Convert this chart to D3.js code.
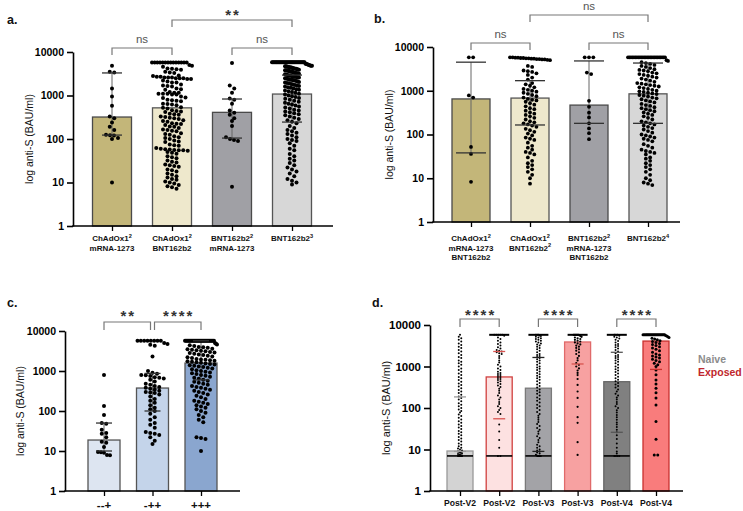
<!DOCTYPE html>
<html>
<head>
<meta charset="utf-8">
<script src="https://cdn.jsdelivr.net/npm/d3@7"></script>
<style>
  html, body { margin: 0; padding: 0; background: #fff; }
  svg { display: block; }
</style>
</head>
<body>
<svg id="chart" width="743" height="511"></svg>
<script>
// ---------------- DATA ----------------
const yTicks = [1, 10, 100, 1000, 10000];
const yTitle = "log anti-S (BAU/ml)";

// Panel a
const aLabels = [["ChAdOx1^2", "mRNA-1273"], ["ChAdOx1^2", "BNT162b2"], ["BNT162b2^2", "mRNA-1273"], ["BNT162b2^3"]];
const aBars = [320, 520, 410, 1080];
const aLo = [123, null, 105, 245];
const aHi = [3300, null, 830, 2950];
const aBrackets = [[0, 1, "ns"], [1, 3, "**"], [2, 3, "ns"]];
const aDots1 = [4800, 3500, 3400, 1450, 950, 580, 330, 300, 240, 190, 160, 125, 122, 120, 105, 100, 10];
const aDots2 = [5700, 5700, 5700, 5700, 5700, 5700, 5700, 5700, 5700, 5700, 5700, 5700, 5700, 5700,
  5000, 4800, 4600, 4200, 4100, 4000, 3900, 3500, 3400, 3300,
  2900, 2800, 2700, 2700, 2600, 2600, 2600, 2500, 2500, 2500, 2400, 2400,
  2200, 2100, 2000, 2000, 1800, 1700, 1650, 1600, 1450, 1400, 1350,
  1200, 1150, 1150, 1100, 1100, 1100, 1050, 1050, 950, 900, 880,
  800, 780, 760, 740, 650, 640, 620, 600, 540, 520, 500,
  460, 440, 430, 420, 380, 370, 360, 330, 320, 310, 300, 290,
  270, 260, 250, 230, 225, 220, 210, 195, 190, 180,
  165, 160, 155, 150, 135, 130, 125, 115, 110, 105, 100,
  92, 88, 85, 75, 72, 70, 62, 60, 58, 57, 56, 55, 55, 54,
  50, 48, 46, 40, 38, 36, 32, 30, 29, 26, 25, 24, 23,
  20, 19, 18, 16, 15, 14, 13, 12, 11.5, 10.5, 10, 9.5, 8.8, 8.2, 7.8, 7.2];
const aDots3 = [5600, 1700, 1450, 1150, 850, 800, 650, 450, 400, 360, 300, 260, 200, 110, 100, 95, 90, 8];
const aDots4 = [5800, 5800, 5800, 5800, 5800, 5800, 5800, 5800, 5800, 5800, 5800, 5800, 5800, 5800, 5800, 5800, 5800, 5800,
  5800, 5800, 5800, 5800, 5800, 5800, 5800, 5800, 5800, 5800, 5800, 5800, 5800, 5800, 5800, 5800, 5800, 5800,
  5400, 5300, 5200, 5100, 5000, 4900, 4850, 4800, 4700, 4650, 4600, 4500, 4450, 4400, 4300, 4250, 4200, 4100, 4000,
  3950, 3900, 3800, 3750, 3700, 3600, 3550, 3500, 3400, 3350, 3300, 3200, 3150, 3100, 3000, 2950, 2900, 2800, 2750,
  2700, 2650, 2600, 2500, 2450, 2400, 2350, 2300, 2250, 2200, 2150, 2100, 2050, 2000,
  4700, 4400, 4100, 3800, 3500, 3200, 2900, 2600, 2300, 3700, 3300, 2700,
  1950, 1900, 1850, 1800, 1750, 1700, 1650, 1600, 1550, 1500, 1450, 1400, 1350, 1300, 1250, 1200, 1150, 1100, 1050, 1000,
  960, 920, 880, 840, 800, 760, 720, 680, 650, 620, 590, 560, 530, 500, 470, 450, 430, 410, 390, 370, 350, 330, 310, 290, 270, 250,
  230, 200, 180, 160, 150, 140, 130, 120, 110, 100, 95, 90, 80, 70, 60, 55, 45, 40, 35, 32, 28, 25, 22, 20, 18, 16, 14, 12, 11, 10, 9];

// Panel b
const bLabels = [["ChAdOx1^2", "mRNA-1273", "BNT162b2"], ["ChAdOx1^2", "BNT162b2^2"], ["BNT162b2^2", "mRNA-1273", "BNT162b2"], ["BNT162b2^4"]];
const bBars = [650, 680, 470, 850];
const bLo = [38, 165, 180, 180];
const bHi = [4500, 1700, 4800, 4300];
const bBrackets = [[0, 1, "ns"], [1, 3, "ns"], [2, 3, "ns"]];
const bDots1 = [5800, 5800, 780, 700, 52, 36, 8.3];
const bDots2 = [5800, 5800, 5700, 5700, 5600, 5600, 5500, 5500, 5400, 5400, 5300, 5300, 5200, 5200, 5100, 5000,
  3700, 3500, 2900, 2800, 2700, 2500, 2300, 2000, 1800, 1500, 1400, 1300, 1200, 1100, 1050, 1000, 950, 900, 850, 800,
  750, 700, 650, 620, 600, 560, 520, 480, 440, 400, 380, 350, 320, 300, 280, 260, 240, 220, 200, 190, 180, 170, 160,
  150, 135, 125, 115, 105, 95, 85, 80, 75, 65, 55, 50, 45, 40, 38, 35, 30, 25, 22, 20, 18, 16, 14, 12, 10, 7.5];
const bDots3 = [5800, 5800, 5800, 2600, 2400, 590, 430, 315, 245, 180, 138, 107, 78];
const bDots4 = [5800, 5800, 5800, 5800, 5800, 5800, 5800, 5800, 5800, 5800, 5800, 5800, 5800, 5800, 5800, 5800, 5800,
  5800, 5800, 5800, 5800, 5800, 5800, 5800, 5800, 5800,
  5000, 4800, 4500, 4300, 4100, 3900, 3700, 3500, 3300, 3100, 3000, 2900, 2800, 2600, 2500, 2400, 2300, 2200, 2100,
  2000, 1900, 1800, 1700, 1600, 1500, 1450, 1400, 1350, 1300, 1250, 1200, 1150, 1100, 1050, 1000, 970, 940, 900, 870,
  840, 800, 770, 740, 700, 670, 640, 600, 570, 540, 500, 470, 450, 420, 400, 380, 360, 340, 320, 300, 280, 260, 240,
  220, 200, 190, 180, 170, 160, 150, 140, 130, 120, 110, 100, 95, 90, 85, 80, 75, 70, 60, 55, 50, 45, 42, 40, 38, 35,
  30, 28, 25, 22, 20, 18, 16, 14, 12, 10, 9, 8, 7.5, 7];

// Panel c
const cLabels = [["--+"], ["-++"], ["+++"]];
const cBars = [18.8, 375, 1580];
const cLo = [10, 100, 600];
const cHi = [50, 870, 5700];
const cBrackets = [[0, 1, "**"], [1, 2, "****"]];
const cDots1 = [790, 133, 80, 50, 48, 34, 28, 27, 22, 17, 16, 12.6, 9.5, 9.3, 9, 8, 7.8];
const cDots2 = [5700, 5700, 5700, 5700, 5700, 5700, 5700, 5700, 5000, 4700, 4500, 4300, 2300, 1000, 900, 850, 800, 780,
  750, 700, 680, 650, 600, 550, 480, 450, 420, 400, 380, 360, 340, 320, 300, 290, 280, 260, 230, 200, 180, 160, 140,
  120, 110, 100, 85, 70, 60, 50, 45, 38, 30, 28, 27, 25, 22, 18, 15];
const cDots3 = [5700, 5700, 5700, 5700, 5700, 5700, 5700, 5700, 5700, 5700, 5700, 5700, 5700, 5700, 5700, 5700, 5700,
  5700, 5700, 5700, 5700, 5700, 5700, 5700, 5700, 5700, 5700, 5700, 5700, 5700,
  5000, 4800, 4600, 4400, 4200, 4000, 3900, 3800, 3600, 3500, 3400, 3300, 3200, 3100, 3000, 2900, 2800, 2700, 2600,
  2500, 2400, 2300, 2200, 2100, 2000, 1950, 1900, 1850, 1800, 1750, 1700, 1650, 1600, 1550, 1500, 1450, 1400, 1350,
  1300, 1250, 1200, 1150, 1100, 1050, 1000, 960, 920, 880, 840, 800, 760, 720, 680, 640, 600, 570, 540, 510, 480, 450,
  420, 400, 380, 360, 340, 320, 300, 280, 260, 240, 220, 200, 180, 170, 160, 150, 140, 130, 120, 110, 100, 90, 80,
  70, 60, 52, 22, 21, 20, 10];

// Panel d
const dLabels = [["Post-V2"], ["Post-V2"], ["Post-V3"], ["Post-V3"], ["Post-V4"], ["Post-V4"]];
const dGroups = ["Naive", "Exposed", "Naive", "Exposed", "Naive", "Exposed"];
const dLegend = ["Naive", "Exposed"];
const dBars = [9.2, 560, 300, 3900, 430, 4100];
const dLo = [9, 55, 9, null, 26, null];
const dHi = [185, 2300, 1650, 1150, 2200, 850];
const dMin = [7, 7, 7, null, 7, null];
const dMax = [null, 5800, 5800, 5800, 5800, 5800];
const dBrackets = [[0, 1, "****"], [2, 3, "****"], [4, 5, "****"]];
const dDots1 = [5800, 5200, 4800, 4400, 4000, 3600, 3300, 3000, 2800, 2500, 2300, 2100, 1900, 1700, 1600, 1400, 1300,
  1200, 1100, 1000, 900, 820, 750, 680, 620, 560, 520, 470, 430, 390, 360, 330, 300, 270, 250, 230, 210, 190, 175,
  160, 145, 130, 120, 110, 100, 92, 85, 78, 70, 64, 58, 53, 48, 44, 40, 37, 34, 31, 28, 26, 24, 22, 20, 18.5, 17,
  15.5, 14, 13, 12, 11, 10.5, 10, 9.5, 9, 8.7, 8.4, 8.1, 7.8, 7.6, 7.4, 7.2, 7, 7, 7, 7, 7, 7, 7, 7];
const dDots2 = [5800, 5800, 5800, 5800, 5800, 5500, 5000, 4600, 4200, 3800, 3500, 3200, 2900, 2700, 2500, 2400, 2300,
  2200, 2100, 2000, 1800, 1600, 1400, 1250, 1100, 1000, 900, 820, 750, 700, 660, 620, 590, 560, 530, 500, 470, 440,
  410, 380, 350, 320, 290, 260, 230, 200, 180, 160, 140, 125, 110, 100, 90, 80, 72, 40, 27, 17, 11, 7, 7];
const dDots3 = [5800, 5800, 5800, 5600, 5400, 5200, 5000, 4800, 4600, 4400, 4200, 4000, 3800, 3600, 3400, 3200, 3000,
  2800, 2600, 2400, 2200, 2000, 1900, 1800, 1700, 1600, 1500, 1400, 1300, 1200, 1100, 1000, 940, 880, 820, 760, 700,
  650, 600, 560, 520, 480, 440, 400, 370, 340, 310, 280, 260, 240, 220, 200, 180, 165, 150, 135, 120, 110, 100, 90,
  80, 72, 65, 58, 52, 46, 41, 37, 33, 30, 27, 24, 21, 19, 17, 15, 13, 12, 11, 10, 9.5, 9, 8.5, 8, 7.5, 7.2, 7, 7, 7, 7, 7];
const dDots4 = [5800, 5800, 5800, 5800, 5800, 5800, 5600, 5400, 5200, 5000, 4800, 4600, 4400, 4200, 4000, 3800, 3600,
  3400, 3200, 3000, 2800, 2600, 2400, 2200, 2000, 1800, 1600, 1400, 1200, 1100, 1000, 900, 800, 700, 620, 500, 360,
  250, 175, 107, 60, 44, 15, 7.4];
const dDots5 = [5800, 5800, 5800, 5500, 5200, 5000, 4700, 4400, 4100, 3800, 3500, 3300, 3100, 2900, 2700, 2500, 2300,
  2100, 1900, 1800, 1700, 1600, 1500, 1400, 1300, 1200, 1100, 1000, 930, 860, 800, 740, 680, 620, 570, 520, 480, 440,
  400, 370, 340, 310, 280, 250, 220, 200, 180, 160, 140, 125, 110, 100, 88, 78, 68, 60, 52, 45, 40, 35, 30, 26, 22,
  18, 14, 11, 9, 8, 7, 7, 7, 7];
const dDots6 = [5800, 5800, 5800, 5800, 5800, 5800, 5800, 5800, 5800, 5800, 5800, 5800, 5800, 5800, 5800, 5800, 5800,
  5800, 5800, 5800, 5600, 5400, 5200, 5000, 4800, 4600, 4400, 4200, 4000, 3800, 3600, 3400, 3200, 3000, 2800, 2600,
  2400, 2200, 2000, 1900, 1800, 1700, 1600, 1500, 1400, 1300, 1200, 1100, 1000, 820, 630, 470, 380, 300, 233, 174,
  118, 47, 17.6, 7.4, 7.4];

// ---------------- DRAW ----------------
const FONT = "'Liberation Sans', Arial, Helvetica, sans-serif";
const svg = d3.select("#chart");
svg.append("rect").attr("width", 743).attr("height", 511).attr("fill", "#fff");

function swarm(values, y, r, maxW, capW, capMin) {
  const pts = values.map(v => ({ v, y: y(v) })).sort((a, b) => a.y - b.y);
  const rows = [];
  let cur = null;
  pts.forEach(p => {
    if (!cur || p.y - cur.y0 > r * 1.9) { cur = { y0: p.y, v0: p.v, pts: [] }; rows.push(cur); }
    cur.pts.push(p);
  });
  rows.forEach(row => {
    const n = row.pts.length;
    const w = row.v0 >= capMin ? capW : maxW;
    const sp = n > 1 ? Math.min(2 * r + 0.5, w / (n - 1)) : 0;
    row.pts.forEach((p, i) => { p.dx = (i - (n - 1) / 2) * sp; });
  });
  return pts;
}

function multiLabel(g, lines, cx, ys, size) {
  lines.forEach((line, k) => {
    const parts = line.split("^");
    const t = g.append("text").attr("x", cx).attr("y", ys[k]).attr("text-anchor", "middle")
      .attr("font-family", FONT).attr("font-weight", "bold").attr("font-size", size).attr("fill", "#111");
    t.append("tspan").text(parts[0]);
    if (parts[1]) t.append("tspan").attr("font-size", size * 0.7).attr("dy", -size * 0.42).text(parts[1]);
  });
}

function drawPanel(c) {
  const g = svg.append("g");
  const n = c.bars.length;
  const y = d3.scaleLog().domain([1, 10000]).range([c.y0, c.y1]);
  const x = d3.scalePoint().domain(d3.range(n)).range([c.c0, c.c1]);

  g.selectAll("rect.bar").data(c.bars).enter().append("rect")
    .attr("x", (d, i) => x(i) - c.bw / 2).attr("y", d => y(d))
    .attr("width", c.bw).attr("height", d => y(1) - y(d))
    .attr("fill", (d, i) => c.fills[i]).attr("stroke", (d, i) => c.strokes[i]).attr("stroke-width", 1.3);

  if (c.lo && c.whisker) {
    c.bars.forEach((b, i) => {
      if (c.lo[i] == null || c.hi[i] == null) return;
      g.append("line").attr("x1", x(i)).attr("x2", x(i)).attr("y1", y(c.lo[i])).attr("y2", y(c.hi[i]))
        .attr("stroke", "#666").attr("stroke-width", 1);
    });
  }

  c.dots.forEach((vals, i) => {
    const r = c.rs ? c.rs[i] : c.r;
    const pts = swarm(vals, y, r, c.maxW[i], c.capW[i], c.capMin);
    g.selectAll(null).data(pts).enter().append("circle")
      .attr("cx", p => x(i) + p.dx).attr("cy", p => p.y).attr("r", r).attr("fill", "#000");
  });

  if (c.lo) {
    c.bars.forEach((b, i) => {
      [c.lo[i], c.hi[i]].forEach(v => {
        if (v == null) return;
        g.append("line").attr("x1", x(i) - c.errCap / 2).attr("x2", x(i) + c.errCap / 2)
          .attr("y1", y(v)).attr("y2", y(v))
          .attr("stroke", c.errColors ? c.errColors[i] : "#333").attr("stroke-width", 1.3);
      });
    });
  }
  if (c.minCaps) {
    c.bars.forEach((b, i) => {
      if (c.minCaps[i] != null) g.append("line").attr("x1", x(i) - c.bw / 2).attr("x2", x(i) + c.bw / 2)
        .attr("y1", y(c.minCaps[i])).attr("y2", y(c.minCaps[i])).attr("stroke", "#000").attr("stroke-width", 1.6);
      if (c.maxCaps[i] != null) g.append("line").attr("x1", x(i) - c.maxCapW / 2).attr("x2", x(i) + c.maxCapW / 2)
        .attr("y1", y(c.maxCaps[i])).attr("y2", y(c.maxCaps[i])).attr("stroke", "#000").attr("stroke-width", 2);
    });
  }

  const yAx = g.append("g").attr("transform", `translate(${c.ax},0)`)
    .call(d3.axisLeft(y).tickValues(yTicks).tickFormat(d3.format("d")).tickSize(6).tickSizeOuter(0).tickPadding(3));
  yAx.select(".domain").attr("stroke", "#000").attr("stroke-width", 1.6);
  yAx.selectAll(".tick line").attr("stroke", "#000").attr("stroke-width", 1.6);
  yAx.selectAll(".tick text").attr("font-family", FONT).attr("font-weight", "bold")
    .attr("font-size", c.tickFont).attr("fill", "#000");

  const xAx = g.append("g").attr("transform", `translate(0,${c.y0})`)
    .call(d3.axisBottom(x).tickSize(5).tickFormat(""));
  xAx.select(".domain").remove();
  xAx.selectAll(".tick line").attr("stroke", "#000").attr("stroke-width", 1.3);
  g.append("line").attr("x1", c.ax - 0.8).attr("x2", c.axEnd).attr("y1", c.y0).attr("y2", c.y0)
    .attr("stroke", "#000").attr("stroke-width", 1.6);

  c.labels.forEach((lines, i) => multiLabel(g, lines, x(i), c.labelY, c.labelFont));

  g.append("text").attr("transform", `translate(${c.titleX},${(c.y0 + c.y1) / 2}) rotate(-90)`)
    .attr("text-anchor", "middle").attr("font-family", FONT).attr("font-size", c.titleFont)
    .attr("fill", "#111").text(yTitle);

  g.append("text").attr("x", c.lx).attr("y", c.ly).attr("font-family", FONT).attr("font-weight", "bold")
    .attr("font-size", 12.5).attr("fill", "#111").text(c.letter);

  c.brackets.forEach((br, k) => {
    const [i, j, lab] = br;
    const by = c.bracketY[k];
    const shared = e => c.brackets.some((o, m) => m !== k && c.bracketY[m] === by && (o[0] === e || o[1] === e));
    const x1 = x(i) + (shared(i) ? 2 : 0);
    const x2 = x(j) - (shared(j) ? 2 : 0);
    g.append("path").attr("d", `M${x1},${by + c.leg}V${by}H${x2}V${by + c.leg}`)
      .attr("fill", "none").attr("stroke", "#777").attr("stroke-width", 1.2);
    const star = lab.indexOf("*") >= 0;
    g.append("text").attr("x", (x1 + x2) / 2 + (star ? 1 : 0)).attr("y", star ? by + c.starDy : by - 5.5)
      .attr("text-anchor", "middle").attr("font-family", FONT)
      .attr("font-weight", star ? "bold" : "normal").attr("font-size", star ? 15 : 11.5)
      .attr("letter-spacing", star ? 2 : 0)
      .attr("fill", star ? "#333" : "#555").text(lab);
  });
  return { x, y };
}

drawPanel({
  letter: "a.", lx: 7, ly: 24, labels: aLabels, bars: aBars, lo: aLo, hi: aHi, whisker: true,
  dots: [aDots1, aDots2, aDots3, aDots4],
  fills: ["#c3b679", "#eee8cc", "#a0a0a5", "#d7d7d7"], strokes: ["#4a4a4a", "#555", "#4a4a4a", "#555"],
  brackets: aBrackets, bracketY: [48, 20, 48], leg: 7, starDy: 0,
  y0: 226, y1: 52, ax: 73, axEnd: 333, c0: 112, c1: 292, bw: 39, r: 2,
  maxW: [12, 38, 12, 14], capW: [12, 40, 12, 40], capMin: 5500, errCap: 20,
  titleX: 33, titleFont: 10.5, tickFont: 10.5, labelFont: 8, labelY: [241, 250.5, 260]
});

drawPanel({
  letter: "b.", lx: 374, ly: 23, labels: bLabels, bars: bBars, lo: bLo, hi: bHi, whisker: true,
  dots: [bDots1, bDots2, bDots3, bDots4],
  fills: ["#c3b679", "#eee8cc", "#a0a0a5", "#d7d7d7"], strokes: ["#4a4a4a", "#555", "#4a4a4a", "#555"],
  brackets: bBrackets, bracketY: [43, 15, 43], leg: 7, starDy: 0,
  y0: 222, y1: 47, ax: 433, axEnd: 680, c0: 471, c1: 648, bw: 38, r: 1.9,
  maxW: [10, 36, 10, 30], capW: [10, 40, 12, 40], capMin: 5500, errCap: 30,
  titleX: 393, titleFont: 10.5, tickFont: 10.5, labelFont: 8, labelY: [241, 250.5, 260]
});

drawPanel({
  letter: "c.", lx: 7, ly: 307, labels: cLabels, bars: cBars, lo: cLo, hi: cHi, whisker: true,
  dots: [cDots1, cDots2, cDots3],
  fills: ["#dde5f1", "#c4d4ea", "#8aa6cf"], strokes: ["#555", "#555", "#555"],
  brackets: cBrackets, bracketY: [322, 322], leg: 8, starDy: -1,
  y0: 491, y1: 331, ax: 65, axEnd: 240, c0: 104, c1: 201, bw: 32, r: 2,
  maxW: [12, 30, 28], capW: [12, 30, 32], capMin: 5500, errCap: 16,
  titleX: 24, titleFont: 10.5, tickFont: 10.5, labelFont: 11.5, labelY: [509]
});

drawPanel({
  letter: "d.", lx: 372, ly: 307, labels: dLabels, bars: dBars, lo: dLo, hi: dHi, whisker: false,
  minCaps: dMin, maxCaps: dMax, maxCapW: 20,
  errColors: ["#9a9a9a", "#d9534f", "#222", "#d9534f", "#555", "#c9302c"],
  dots: [dDots1, dDots2, dDots3, dDots4, dDots5, dDots6],
  fills: ["#d3d3d3", "#fde1e1", "#a3a3a7", "#f7a1a1", "#808080", "#f97c7c"],
  strokes: ["#999", "#d0403f", "#7a7a7a", "#e06a6a", "#666", "#c8302e"],
  brackets: dBrackets, bracketY: [319, 319, 319], leg: 8, starDy: 1,
  y0: 491, y1: 325, ax: 430, axEnd: 683, c0: 460, c1: 656, bw: 26, r: 1.1, rs: [1, 1, 1, 1.1, 1, 1.5],
  maxW: [4, 8, 5, 6, 5, 8], capW: [4, 10, 5, 8, 5, 26], capMin: 5500, errCap: 12,
  titleX: 390, titleFont: 11, tickFont: 11.5, labelFont: 8.6, labelY: [506]
});

const legColors = { "Naive": "#8c8c8c", "Exposed": "#c0272d" };
svg.selectAll("text.leg").data(dLegend).enter().append("text")
  .attr("x", 698).attr("y", (d, i) => 363 + i * 13)
  .attr("font-family", FONT).attr("font-weight", "bold").attr("font-size", 10.5)
  .attr("fill", d => legColors[d]).text(d => d);
</script>
</body>
</html>
